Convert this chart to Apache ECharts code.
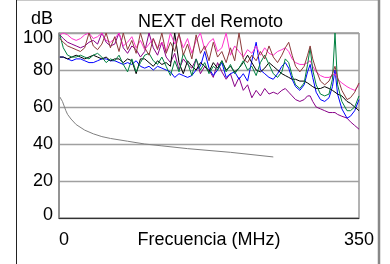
<!DOCTYPE html>
<html>
<head>
<meta charset="utf-8">
<script src="https://cdn.jsdelivr.net/npm/echarts@6/dist/echarts.min.js"></script>
<style>
html,body{margin:0;padding:0;background:#fff;}
#chart{width:390px;height:264px;}
</style>
</head>
<body>
<div id="chart"></div>
<script>
const titleText = 'NEXT del Remoto';
const xName = 'Frecuencia (MHz)';
const yName = 'dB';
const xTicks = [0, 350];
const yTicks = [0, 20, 40, 60, 80, 100];

const freqs = [1,5,10,15,20,25,30,35,40,45,50,55,60,65,70,75,80,85,90,95,100,105,110,115,120,125,130,135,140,145,150,155,160,165,170,175,180,185,190,195,200,205,210,215,220,225,230,235,240,245,250,255,260,264,268,272,276,281,286,290,293,296,300,305,310,315,319,322,325,330,336,340,345,350];

const pink = [99,100,99,97,96,97,99,100,97,98,
  100,96,95,97,100,93,95,98,92,96,
  91,94,97,92,95,90,100,94,99,92,
  97,89,96,100,91,95,97,90,92,100,
  88,93,90,87,91,89,93,88,92,89,
  88,
  90,91,92,90,86,84,83,83,84,85,
  82,79,77,76,76,77,78,75,73,71,70,69,72];

const brown = [97,95,93,92,91,90,92,100,93,91,
  94,100,92,98,90,100,91,96,89,100,
  92,88,97,91,100,89,95,90,100,88,
  94,86,99,89,93,85,95,87,90,84,
  92,85,100,86,84,88,85,90,86,93,
  87,
  84,88,92,95,88,82,79,82,88,93,
  86,80,74,72,74,78,82,76,69,64,65,68,73];

const purple = [99,97,95,94,93,92,93,95,96,94,
  100,95,93,94,100,92,89,93,91,87,
  90,100,92,88,95,87,84,89,80,86,
  83,81,86,78,82,80,76,84,79,75,
  78,71,76,69,72,65,69,66,70,67,
  68,
  67,69,70,68,66,64,63,64,66,66,
  63,60,59,58,57,57,57,56,55,54,52,50,48];

const green = [99,92,88,87,87,88,87,86,88,89,
  87,84,86,85,88,83,79,86,79,84,
  88,89,85,83,87,82,77,85,79,89,
  84,77,86,80,84,78,82,80,85,79,
  83,78,81,85,80,82,77,84,88,83,
  78,
  76,79,86,84,77,72,70,73,83,92,
  80,72,67,66,67,75,100,72,63,58,58,60,66];

const black = [87,87,86,87,88,87,86,87,88,87,
  86,87,85,86,86,84,86,85,78,86,
  86,84,82,85,83,84,82,100,84,78,
  85,82,80,84,82,79,84,81,85,80,
  82,79,81,84,88,84,80,79,81,84,
  82,
  80,78,77,76,75,75,74,74,73,72,
  71,70,70,71,70,69,68,67,66,63,62,60,58];

const blue = [87,87,86,85,86,86,85,84,84,85,
  86,86,85,85,84,83,84,83,85,82,
  81,82,80,82,81,80,79,76,78,77,
  76,77,80,82,90,81,77,80,84,76,
  78,79,75,78,74,85,95,80,78,76,
  75,
  78,82,84,81,75,71,69,72,79,83,
  76,68,64,63,65,71,80,67,59,54,55,58,64];

const limitFreqs = [1,2,4,6,8,10,14,20,30,40,50,60,80,100,120,150,200,250];
const limitVals = [65.4,64.5,63,60.5,58,56,53.5,50.5,47.5,45.5,44,43,41.5,40,39,37.5,35.5,33];

function pairs(xs, ys){ return xs.map((x,i)=>[x, ys[i]]); }

const FONT = "'Liberation Sans', Arial, sans-serif";
const chart = echarts.init(document.getElementById('chart'), null, {renderer:'canvas'});

function mk(name, data, color){
  return {name, type:'line', data, showSymbol:false, symbol:'none', animation:false,
    lineStyle:{color, width:1}, itemStyle:{color}, clip:true};
}

chart.setOption({
  animation:false,
  backgroundColor:'#fff',
  title:{text:titleText, left:133, top:8, textStyle:{fontSize:18, fontWeight:'normal', color:'#000', fontFamily:FONT}},
  grid:{left:59, right:31, top:33, bottom:46, containLabel:false, outerBoundsMode:'none', show:true, borderColor:'#666', borderWidth:1, backgroundColor:'transparent'},
  xAxis:{type:'value', min:xTicks[0], max:xTicks[1], interval:350,
    name:xName, nameLocation:'middle', nameGap:13, nameMoveOverlap:false,
    nameTextStyle:{fontSize:18, color:'#000', fontFamily:FONT, verticalAlign:'top'},
    axisLine:{show:true, lineStyle:{color:'#333', width:1}},
    axisTick:{show:false}, splitLine:{show:false},
    axisLabel:{fontSize:18, color:'#000', fontFamily:FONT, margin:13, alignMinLabel:'left', showMinLabel:true, showMaxLabel:true}
  },
  yAxis:{type:'value', min:yTicks[0], max:yTicks[yTicks.length-1], interval:20,
    name:yName, nameLocation:'end', nameGap:5, nameMoveOverlap:false,
    nameTextStyle:{fontSize:18, color:'#000', fontFamily:FONT, align:'right', padding:[0,6,0,0]},
    axisLine:{show:true, lineStyle:{color:'#888', width:1.5}},
    axisTick:{show:false},
    splitLine:{show:true, lineStyle:{color:'#a0a0a0', width:1.3}},
    axisLabel:{fontSize:18, color:'#000', fontFamily:FONT, margin:6,
      formatter:function(v){ if(v===100) return '{a|100}'; if(v===0) return '{b|0}'; return String(v); },
      rich:{a:{fontSize:18, fontFamily:FONT, color:'#000', padding:[11,0,0,0]}, b:{fontSize:18, fontFamily:FONT, color:'#000', padding:[0,0,6,0]}}
    }
  },
  graphic:[
    {type:'line', shape:{x1:16, y1:0.5, x2:379, y2:0.5}, style:{stroke:'#c8c8c8', lineWidth:1}},
    {type:'line', shape:{x1:16.5, y1:0, x2:16.5, y2:264}, style:{stroke:'#222', lineWidth:1}},
    {type:'line', shape:{x1:379, y1:0, x2:379, y2:264}, style:{stroke:'#888', lineWidth:2.5}}
  ],
  series:[
    mk('limit', pairs(limitFreqs, limitVals), '#808080'),
    mk('purple', pairs(freqs, purple), '#880088'),
    mk('blue', pairs(freqs, blue), '#0000ff'),
    mk('black', pairs(freqs, black), '#000000'),
    mk('pink', pairs(freqs, pink), '#ff33cc'),
    mk('green', pairs(freqs, green), '#008040'),
    mk('brown', pairs(freqs, brown), '#8b3a3a')
  ]
});
</script>
</body>
</html>
